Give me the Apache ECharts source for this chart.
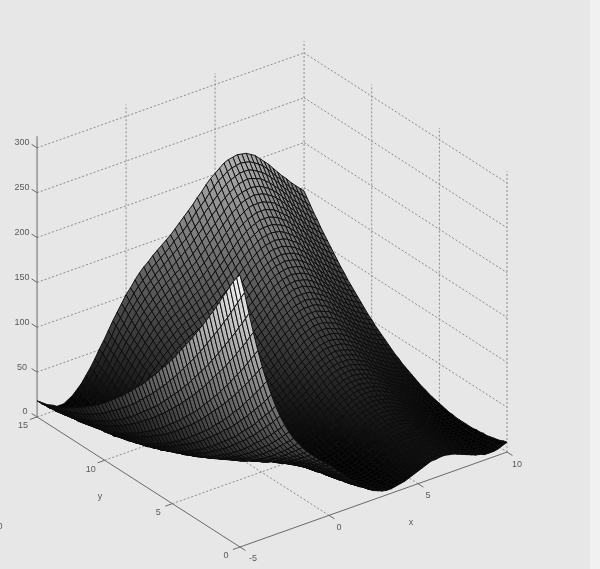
<!DOCTYPE html>
<html><head><meta charset="utf-8">
<style>html,body{margin:0;padding:0;background:#e7e7e7}#c{width:600px;height:569px}</style>
<script src="https://cdn.jsdelivr.net/npm/echarts@6/dist/echarts.min.js"></script>
</head><body><div id="c"></div>
<script>
const xValues=[-5,-4.75,-4.5,-4.25,-4,-3.75,-3.5,-3.25,-3,-2.75,-2.5,-2.25,-2,-1.75,-1.5,-1.25,-1,-0.75,-0.5,-0.25,0,0.25,0.5,0.75,1,1.25,1.5,1.75,2,2.25,2.5,2.75,3,3.25,3.5,3.75,4,4.25,4.5,4.75,5,5.25,5.5,5.75,6,6.25,6.5,6.75,7,7.25,7.5,7.75,8,8.25,8.5,8.75,9,9.25,9.5,9.75,10];
const yValues=[0,0.25,0.5,0.75,1,1.25,1.5,1.75,2,2.25,2.5,2.75,3,3.25,3.5,3.75,4,4.25,4.5,4.75,5,5.25,5.5,5.75,6,6.25,6.5,6.75,7,7.25,7.5,7.75,8,8.25,8.5,8.75,9,9.25,9.5,9.75,10,10.25,10.5,10.75,11,11.25,11.5,11.75,12,12.25,12.5,12.75,13,13.25,13.5,13.75,14,14.25,14.5,14.75,15];
const xTicks=[-5,0,5,10];
const yTicks=[0,5,10,15];
const zTicks=[0,50,100,150,200,250,300];
const zTop=313;
// one row per x value, one column per y value
const zRows=[
[303,298,291,283,275,267,259,251,243,236,228,221,214,207,200,193,187,180,174,167,161,155,149,144,138,132,127,122,116,111,107,102,97,93,88,84,80,76,72,68,64,61,57,54,51,48,45,42,40,37,35,32,30,28,26,25,23,21,20,19,18],
[282,274,266,258,250,242,235,227,220,213,206,199,192,185,179,172,166,160,154,148,142,136,131,125,120,115,110,105,100,96,91,87,82,78,74,70,67,63,59,56,53,49,46,43,41,38,35,33,31,29,27,25,23,21,20,18,17,16,15,14,13],
[257,249,241,234,226,219,212,205,198,191,184,178,171,165,159,153,147,141,135,130,124,119,114,109,104,99,94,89,85,81,77,73,69,65,61,57,54,50,47,44,41,38,36,33,31,28,26,24,22,20,19,17,16,14,13,12,11,10,10,9,9],
[234,227,219,212,205,198,191,185,178,172,166,160,154,148,142,136,131,125,120,115,110,105,100,96,91,87,82,78,74,70,66,62,59,55,52,48,45,42,39,36,33,31,28,26,24,22,20,18,16,15,13,12,11,10,9,8,7,7,6,6,6],
[212,205,198,191,184,177,171,165,158,152,146,140,134,129,123,118,113,107,102,97,93,88,84,79,75,71,67,63,59,55,52,48,45,42,39,36,33,31,28,26,23,21,19,17,15,14,12,11,10,9,8,7,6,5,5,4,4,4,4,4,4],
[192,186,179,173,166,160,154,148,142,136,131,125,120,115,110,105,100,95,90,86,81,77,73,69,65,61,57,54,50,47,44,41,38,35,32,30,27,25,23,21,19,17,15,13,12,10,9,8,7,6,5,4,4,3,3,3,3,3,3,3,4],
[174,168,161,155,149,143,137,131,125,120,115,109,104,99,94,90,85,80,76,72,68,64,60,56,52,49,45,42,39,36,33,30,28,25,23,20,18,16,14,12,11,9,8,7,6,4,4,3,2,2,1,1,1,1,1,1,2,2,3,3,4],
[158,151,145,139,134,128,123,117,112,107,102,97,92,88,84,79,75,71,67,63,59,55,52,48,45,42,39,36,33,30,27,25,22,20,18,16,14,12,10,9,7,6,5,4,3,2,2,1,1,1,1,1,1,2,2,3,4,5,5,6,7],
[143,137,131,126,120,115,109,104,99,95,90,85,80,76,72,68,64,60,56,52,49,45,42,39,36,33,30,27,25,22,20,18,16,14,12,11,9,8,6,5,4,3,3,2,1,1,1,1,1,1,1,1,2,2,3,4,5,6,7,8,10],
[130,125,119,114,109,104,99,94,89,85,80,76,72,68,64,60,56,53,49,46,43,39,36,33,31,28,26,23,21,19,17,15,13,11,10,8,7,6,5,4,3,2,2,2,1,1,1,2,2,3,3,4,5,6,7,8,9,11,12,14,15],
[119,113,108,103,98,93,89,84,80,76,71,67,63,59,55,52,48,45,42,39,36,33,30,28,25,23,21,19,17,15,13,12,10,9,8,6,6,5,4,3,3,2,2,2,2,2,3,3,4,4,5,6,7,9,10,11,13,14,16,18,20],
[109,104,99,94,89,85,80,76,72,68,64,60,56,53,49,46,43,40,37,34,31,29,26,24,22,20,18,16,14,13,11,10,9,8,7,6,5,5,4,4,4,4,4,4,5,5,6,6,7,8,9,10,12,13,15,16,18,20,22,24,27],
[100,95,91,86,82,77,73,69,65,61,58,54,51,47,44,41,39,36,33,31,28,26,24,22,20,18,16,15,13,12,11,10,9,8,7,7,6,6,6,6,6,7,7,8,8,9,9,10,11,13,14,15,17,18,20,22,25,27,29,32,34],
[93,88,84,79,75,71,67,63,59,56,52,49,46,43,40,37,35,32,30,28,26,24,22,20,18,17,16,14,13,12,11,11,10,9,9,9,8,8,8,9,9,9,10,11,11,12,13,14,16,17,19,20,22,24,26,29,31,34,36,39,42],
[86,82,78,74,70,66,62,58,55,52,48,45,43,40,37,35,33,30,28,26,24,23,21,19,18,17,15,14,13,13,12,11,11,11,11,11,11,11,11,11,12,13,14,15,16,17,19,20,22,24,25,27,29,31,34,36,39,41,45,48,51],
[80,76,72,68,65,61,58,55,51,48,45,43,40,37,35,33,31,29,27,25,23,22,20,19,18,17,16,15,14,14,14,13,13,13,13,13,14,14,15,15,16,17,18,20,21,22,24,26,28,30,32,34,36,39,41,44,47,50,53,56,59],
[75,71,67,64,60,57,54,51,48,45,42,40,38,35,33,31,29,27,26,24,23,21,20,19,18,17,17,16,16,15,15,15,15,15,16,16,17,18,18,19,20,22,23,24,26,28,30,32,34,36,38,41,43,46,49,51,55,58,61,64,68],
[70,66,62,59,56,53,50,48,45,42,40,38,36,34,32,30,28,27,25,24,23,22,21,20,19,19,18,18,18,18,18,18,19,19,20,20,21,22,23,24,26,27,29,30,32,34,36,38,41,43,46,48,51,54,57,60,63,66,70,74,77],
[65,62,58,55,52,50,47,44,42,39,37,35,33,31,30,28,26,25,24,23,22,21,20,20,19,19,19,19,18,19,19,19,20,20,21,22,23,24,26,27,29,30,32,34,36,38,40,43,45,48,51,53,56,60,63,66,70,73,77,81,85],
[60,57,54,51,49,46,43,41,39,37,35,33,31,29,28,26,25,24,23,22,21,21,20,20,20,19,19,19,20,20,21,21,22,23,24,25,26,27,29,31,32,34,36,38,40,43,45,48,51,53,56,60,63,66,70,73,77,81,85,89,93],
[56,53,50,47,45,42,40,38,36,34,32,30,29,27,26,25,24,23,22,21,21,20,20,20,20,20,20,21,21,22,22,23,24,25,26,28,29,31,32,34,36,38,40,42,45,47,50,53,56,59,62,65,69,72,76,80,84,88,92,96,101],
[51,48,45,43,41,38,36,34,32,31,29,28,26,25,24,23,22,21,21,20,20,19,19,19,19,20,20,21,21,22,23,24,25,26,28,29,31,33,34,36,39,41,43,46,48,51,54,57,60,63,67,70,74,78,82,86,90,94,98,103,107],
[46,43,41,39,36,34,33,31,29,28,26,25,23,22,21,20,20,19,19,18,18,18,18,18,19,19,20,20,21,22,24,25,26,28,29,31,33,35,37,39,41,44,46,49,52,55,58,61,64,68,71,75,79,83,87,91,95,100,104,109,114],
[41,38,36,34,32,30,28,27,25,24,23,22,21,20,19,18,18,17,17,17,17,17,17,18,18,19,20,21,22,23,24,25,27,28,30,32,34,36,38,41,43,46,49,52,55,58,61,64,68,71,75,79,83,87,91,96,100,105,110,114,120],
[36,34,32,30,28,26,24,23,22,20,19,18,17,17,16,16,16,16,15,15,15,15,16,16,17,18,19,20,21,23,24,26,27,29,31,33,35,37,40,42,45,48,51,54,57,60,64,67,71,75,79,83,87,91,96,100,105,110,114,119,125],
[31,29,27,25,23,22,20,19,18,17,16,15,15,14,14,13,13,13,13,13,14,14,15,15,16,17,18,19,21,22,24,26,27,29,31,34,36,38,41,44,47,49,53,56,59,63,66,70,74,78,82,86,90,95,99,104,109,114,119,124,129],
[26,24,22,20,19,17,16,15,14,13,13,12,11,11,11,11,11,11,11,11,12,13,13,14,15,16,17,19,20,22,24,26,28,30,32,34,37,39,42,45,48,51,54,58,61,65,68,72,76,80,85,89,93,98,103,108,113,118,123,128,134],
[21,20,18,16,15,14,13,12,11,10,10,9,9,8,8,8,8,9,9,10,10,11,12,13,14,15,17,18,20,22,23,25,28,30,32,35,37,40,43,46,49,52,56,59,63,67,71,75,79,83,87,92,96,101,106,111,116,121,127,132,138],
[17,16,14,13,11,10,9,9,8,7,7,6,6,6,6,6,6,7,7,8,9,10,11,12,13,15,16,18,19,21,23,26,28,30,33,35,38,41,44,47,50,54,57,61,65,69,73,77,81,86,90,95,99,104,109,115,120,125,131,136,142],
[13,12,11,9,8,7,6,6,5,5,4,4,4,4,4,4,5,5,6,7,8,9,10,11,13,14,16,17,19,21,24,26,28,31,33,36,39,42,45,49,52,55,59,63,67,71,75,79,84,88,93,98,103,108,113,118,123,129,135,140,146],
[10,9,8,7,6,5,4,3,3,2,2,2,2,2,3,3,4,4,5,6,7,8,9,11,12,14,16,18,20,22,24,26,29,32,35,37,40,43,47,50,54,57,61,65,69,73,78,82,86,91,96,101,106,111,116,122,127,133,139,145,150],
[8,7,6,5,4,3,2,2,1,1,1,1,1,2,2,2,3,4,5,6,7,8,10,11,13,14,16,18,20,23,25,28,30,33,36,39,42,45,49,52,56,60,64,68,72,76,80,85,89,94,99,104,109,115,120,125,131,137,143,149,155],
[6,5,4,3,2,2,1,1,1,1,1,1,1,1,2,2,3,4,5,6,7,8,10,12,14,16,17,20,22,24,27,29,32,35,38,41,44,47,51,54,58,62,66,70,75,79,84,88,93,98,103,108,113,118,124,129,135,141,147,153,160],
[5,4,3,3,2,1,1,1,1,0,1,1,1,2,2,3,4,5,6,7,8,10,11,13,15,17,19,21,24,26,29,31,34,37,40,43,47,50,54,58,61,65,70,74,78,83,87,92,97,102,107,112,117,123,128,134,140,146,152,158,165],
[5,4,3,2,2,1,1,1,1,1,1,1,2,2,3,4,5,6,7,8,10,11,13,15,17,19,21,24,26,29,31,34,37,40,43,46,50,53,57,61,65,69,73,77,82,86,91,96,101,106,111,116,122,127,133,139,145,151,157,163,170],
[6,5,4,3,3,2,2,2,2,2,3,3,3,4,5,6,7,8,9,11,12,14,15,17,19,22,24,26,29,31,34,37,40,43,46,50,53,57,61,65,69,73,77,81,86,91,95,100,105,110,116,121,126,132,138,144,150,156,162,169,175],
[7,6,5,5,4,4,4,4,4,4,4,5,5,6,7,8,9,10,12,13,15,16,18,20,22,25,27,29,32,35,37,40,43,47,50,53,57,61,65,68,73,77,81,86,90,95,100,105,110,115,120,126,131,137,143,149,155,161,168,174,181],
[8,7,7,6,6,6,6,6,6,6,7,7,8,9,9,10,12,13,14,16,18,19,21,23,25,28,30,33,35,38,41,44,47,50,54,57,61,65,69,73,77,81,85,90,95,99,104,109,114,120,125,131,136,142,148,154,160,167,173,179,186],
[10,9,9,8,8,8,8,8,8,9,9,10,10,11,12,13,15,16,17,19,21,23,24,27,29,31,33,36,39,42,45,48,51,54,58,61,65,69,73,77,81,85,90,94,99,104,109,114,119,125,130,135,141,147,153,159,165,171,178,185,192],
[12,12,11,11,10,10,10,11,11,11,12,12,13,14,15,16,17,19,20,22,24,26,28,30,32,34,37,39,42,45,48,51,55,58,61,65,69,73,77,81,85,90,94,99,103,108,113,118,124,129,135,140,146,152,158,164,170,177,183,190,197],
[14,14,13,13,13,13,13,13,14,14,15,16,16,17,18,20,20,22,23,25,27,29,31,33,35,38,40,43,46,49,52,55,58,61,65,68,72,76,80,84,89,93,98,102,107,112,117,122,128,133,139,145,150,156,162,169,175,181,188,195,201],
[16,16,15,15,15,15,15,15,16,16,17,17,18,19,20,21,23,24,26,28,29,31,33,36,38,40,43,46,49,51,55,58,61,65,68,72,76,80,84,88,92,97,101,106,111,116,121,126,131,137,142,148,154,160,166,172,179,185,192,198,205],
[18,17,17,17,17,17,17,18,18,18,19,20,20,21,22,24,25,26,28,30,32,34,36,38,40,43,45,48,51,54,57,60,64,67,71,74,78,82,87,91,95,99,104,109,114,119,124,129,134,140,146,151,157,163,169,176,182,188,195,202,209],
[20,19,19,18,18,18,18,19,19,20,20,21,22,23,24,25,27,28,30,31,33,35,37,40,42,45,47,50,53,56,59,62,66,69,73,76,80,84,88,93,97,102,106,111,116,121,126,131,137,142,148,154,159,165,172,178,184,191,197,204,211],
[20,20,20,19,19,19,19,20,20,21,21,22,23,24,25,26,28,29,31,33,34,36,39,41,43,46,48,51,54,57,60,63,67,70,74,78,82,86,90,94,98,103,108,112,117,122,127,132,138,143,149,155,161,167,173,179,185,192,199,205,212],
[21,20,20,20,20,20,20,20,20,21,21,22,23,24,25,27,28,30,31,33,35,37,39,41,44,46,49,52,54,57,61,64,67,71,74,78,82,86,90,94,99,103,108,113,118,123,128,133,138,144,150,155,161,167,173,180,186,193,199,206,213],
[21,20,20,20,19,20,19,20,20,21,21,22,23,24,25,26,28,29,31,33,34,36,39,41,43,46,48,51,54,57,60,63,67,70,74,78,82,86,90,94,98,103,108,112,117,122,127,132,138,143,149,155,161,167,173,179,185,192,199,205,212],
[20,19,19,19,19,19,19,19,19,20,20,21,22,23,24,25,27,28,30,32,33,35,38,40,42,45,47,50,53,56,59,62,66,69,73,76,80,84,88,93,97,102,106,111,116,121,126,131,136,142,148,153,159,165,171,178,184,190,197,204,211],
[19,18,18,17,17,17,17,17,18,18,19,20,21,22,23,24,25,27,28,30,32,34,36,38,40,43,45,48,51,54,57,60,64,67,71,74,78,82,86,90,95,99,104,109,114,119,124,129,134,140,145,151,157,163,169,175,181,188,194,201,208],
[17,16,16,16,16,15,16,16,16,16,17,18,18,19,20,22,23,24,26,28,30,31,34,36,38,40,43,46,49,51,55,58,61,64,68,72,76,79,84,88,92,96,101,106,111,115,121,126,131,136,142,148,153,159,166,172,178,184,191,198,205],
[15,15,14,14,13,13,13,14,14,14,15,15,16,17,18,19,20,22,23,25,27,29,31,33,35,38,40,43,46,49,51,55,58,61,65,69,72,76,80,84,89,93,97,102,107,112,117,122,127,133,138,144,150,155,161,168,174,180,187,194,200],
[13,12,12,11,11,11,11,11,11,12,12,13,13,14,15,16,18,19,20,22,24,26,28,30,32,34,37,39,42,45,48,51,54,58,61,65,68,72,76,80,85,89,93,98,103,108,113,118,123,128,134,139,145,151,157,163,169,175,182,189,195],
[11,10,10,9,9,9,9,9,9,9,10,10,11,12,13,14,15,16,17,19,21,22,24,26,29,31,33,36,39,41,44,47,50,54,57,61,64,68,72,76,80,85,89,94,98,103,108,113,118,123,129,134,140,146,152,158,164,170,177,183,190],
[9,8,8,7,7,6,6,6,6,7,7,7,8,9,10,11,12,13,14,16,17,19,21,23,25,27,30,32,35,37,40,43,46,50,53,56,60,64,68,72,76,80,84,89,93,98,103,108,113,118,124,129,135,140,146,152,158,165,171,177,184],
[8,7,6,5,5,4,4,4,4,4,5,5,6,6,7,8,9,10,12,13,14,16,18,20,22,24,26,28,31,34,37,40,43,46,49,53,56,60,63,67,71,75,80,84,89,93,98,103,108,113,119,124,130,135,141,147,153,159,165,172,178],
[6,5,5,4,3,3,3,3,3,3,3,3,4,4,5,6,7,8,9,10,12,13,15,17,19,21,23,25,28,30,33,36,39,42,45,49,52,56,59,63,67,71,75,80,84,89,93,98,103,108,114,119,124,130,136,141,147,153,160,166,172],
[6,5,4,3,3,2,2,1,1,1,1,2,2,3,3,4,5,6,7,8,9,11,13,14,16,18,20,23,25,27,30,33,36,39,42,45,48,52,55,59,63,67,71,75,80,84,89,94,99,104,109,114,119,125,130,136,142,148,154,160,167],
[6,5,4,3,2,2,1,1,1,1,1,1,1,1,2,3,3,4,5,6,8,9,11,12,14,16,18,20,22,25,27,30,33,36,39,42,45,48,52,56,59,63,67,71,76,80,85,89,94,99,104,109,114,120,125,131,137,143,149,155,161],
[7,6,5,4,3,2,1,1,1,0,0,0,1,1,1,2,3,3,4,5,7,8,9,11,12,14,16,18,20,22,25,27,30,33,36,39,42,45,49,52,56,60,64,68,72,76,81,85,90,95,100,105,110,115,121,126,132,138,144,150,156],
[9,7,6,5,4,3,2,2,1,1,1,1,1,1,1,2,2,3,4,5,6,7,8,10,11,13,15,17,19,21,23,26,28,31,34,37,40,43,46,50,53,57,61,65,69,73,77,82,86,91,96,101,106,111,116,122,127,133,139,145,151],
[11,10,8,7,6,5,4,4,3,3,2,2,2,2,2,2,3,3,4,5,6,7,8,9,11,12,14,16,18,20,22,24,27,29,32,35,38,41,44,47,51,54,58,62,66,70,74,78,83,87,92,97,102,107,112,117,123,128,134,140,146]
];

// orthographic view: world (x,y,z) to picture position on the hidden axes
function project(x,y,z){
  return [240+(x+5)*17.8-y*13.53, 547-(x+5)*6.33-y*8.67-z*0.897];
}
const GRID='#8c8c8c', AXIS='#6a6a6a', TEXT='#5a5a5a';
const FONT='9px "Liberation Sans", Arial, sans-serif';

function seg(a,b){return a.concat(b);}
const wallLines=[];
zTicks.forEach(z=>{
  wallLines.push(seg([-5,15,z],[10,15,z]));
  wallLines.push(seg([10,15,z],[10,0,z]));
});
xTicks.slice(1).forEach(x=>{
  wallLines.push(seg([x,15,0],[x,15,zTop]));
  if(x<10) wallLines.push(seg([x,0,0],[x,15,0]));
});
yTicks.slice(0,3).forEach(y=>{
  wallLines.push(seg([10,y,0],[10,y,zTop]));
  if(y>0) wallLines.push(seg([-5,y,0],[10,y,0]));
});

const axisLines=[
  seg([-5,15,0],[-5,0,0]),
  seg([-5,0,0],[10,0,0]),
  seg([-5,15,0],[-5,15,zTop])
];
zTicks.forEach(z=>axisLines.push(seg([-5,15,z],[-5,15.4,z])));
yTicks.forEach(y=>axisLines.push(seg([-5,y,0],[-5.4,y,0])));
xTicks.forEach(x=>axisLines.push(seg([x,0,0],[x,-0.4,0])));

const labels=[];
zTicks.forEach(z=>{const p=project(-5,15,z);labels.push([p[0]-(z===0?12:15),p[1]-5,String(z)]);});
yTicks.forEach(y=>{const p=project(-5,y,0);labels.push([p[0]-14,p[1]+9,String(y)]);});
xTicks.forEach(x=>{const p=project(x,0,0);labels.push([p[0]+(x===-5?13:10),p[1]+12,String(x)]);});
labels.push([411,523,'x'],[100,497,'y'],[0,527,'0']);

const cells=[];
for(let i=xValues.length-2;i>=0;i--){
  for(let j=yValues.length-2;j>=0;j--){
    cells.push([i,j]);
  }
}
function shade(z){
  const g=Math.round(255*Math.min(1,Math.max(0,z/308)));
  return 'rgb('+g+','+g+','+g+')';
}

function lineRender(color,dash,width){
  return function(params,api){
    const a=project(api.value(0),api.value(1),api.value(2));
    const b=project(api.value(3),api.value(4),api.value(5));
    return {type:'line',silent:true,
      shape:{x1:api.coord(a)[0],y1:api.coord(a)[1],x2:api.coord(b)[0],y2:api.coord(b)[1]},
      style:{stroke:color,lineWidth:width,lineDash:dash,fill:null}};
  };
}
function cellRender(params,api){
  const i=api.value(0), j=api.value(1);
  const c=[[i,j],[i+1,j],[i+1,j+1],[i,j+1]];
  const pts=c.map(k=>api.coord(project(xValues[k[0]],yValues[k[1]],zRows[k[0]][k[1]])));
  const mean=(zRows[i][j]+zRows[i+1][j]+zRows[i+1][j+1]+zRows[i][j+1])/4;
  return {type:'polygon',silent:true,shape:{points:pts},
    style:{fill:shade(mean),stroke:'#0c0c0c',lineWidth:0.95}};
}
function labelRender(params,api){
  const p=api.coord([api.value(0),api.value(1)]);
  return {type:'text',silent:true,x:p[0],y:p[1],
    style:{text:labels[params.dataIndex][2],font:FONT,fill:TEXT,align:'center',verticalAlign:'middle'}};
}

const chart=echarts.init(document.getElementById('c'),null,{renderer:'canvas',width:600,height:569});
chart.setOption({
  backgroundColor:'#e7e7e7',
  animation:false,
  grid:{left:0,right:0,top:0,bottom:0},
  xAxis:{type:'value',min:0,max:600,show:false},
  yAxis:{type:'value',min:0,max:569,inverse:true,show:false},
  graphic:[{type:'rect',shape:{x:590,y:0,width:10,height:569},style:{fill:'#f1f1f1'},z:-1}],
  series:[
    {type:'custom',coordinateSystem:'cartesian2d',renderItem:lineRender(GRID,[2,2],1),data:wallLines,z:1,clip:false},
    {type:'custom',coordinateSystem:'cartesian2d',renderItem:lineRender(AXIS,null,1),data:axisLines,z:2,clip:false},
    {type:'custom',coordinateSystem:'cartesian2d',renderItem:cellRender,data:cells,z:3,clip:false,progressive:0,
     encode:{x:0,y:1}},
    {type:'custom',coordinateSystem:'cartesian2d',renderItem:labelRender,data:labels.map(l=>[l[0],l[1]]),z:4,clip:false}
  ]
});
</script></body></html>
